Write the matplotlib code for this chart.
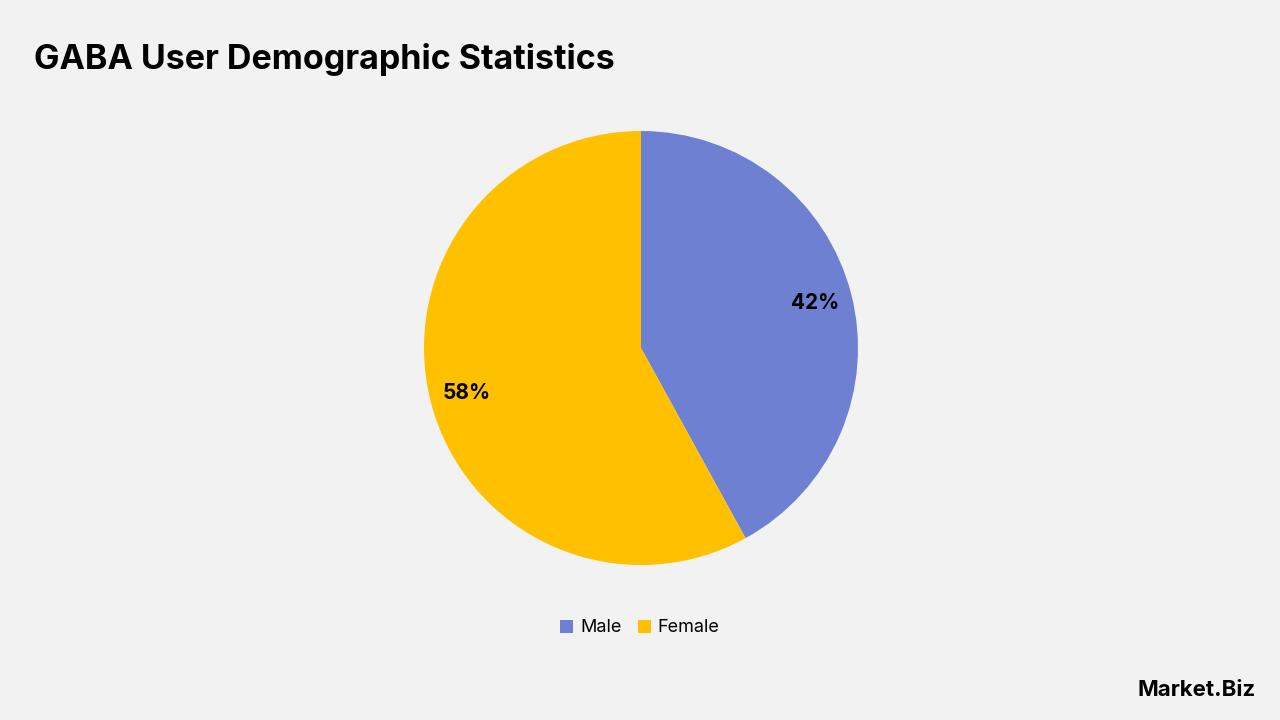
import matplotlib.pyplot as plt

labels = ['Male', 'Female']
shares = [42, 58]
colors = ['#6E80D2', '#FFC000']

plt.rcParams['font.family'] = ['Inter', 'DejaVu Sans']

fig = plt.figure(figsize=(12.8, 7.2), dpi=100, facecolor='#F2F2F2')
ax = fig.add_axes([641/1280 - 217/1280, 1 - 348/720 - 217/720, 434/1280, 434/720])
ax.set_facecolor('#F2F2F2')

wedges, texts, autotexts = ax.pie(shares, colors=colors, startangle=90, counterclock=False,
                                  autopct='%d%%', pctdistance=0.83,
                                  textprops={'fontsize': 15, 'fontweight': 'bold', 'color': 'black'})
ax.set_xlim(-1, 1)
ax.set_ylim(-1, 1)
ax.set_aspect('equal')

fig.text(34/1280, 1 - 59/720, 'GABA User Demographic Statistics', fontsize=24.5, fontweight='bold',
         va='center', ha='left')

fig.legend(wedges, labels, loc='center', bbox_to_anchor=(0.5, 1 - 628/720), ncol=2, frameon=False,
           fontsize=13, handlelength=0.7, handleheight=0.7, handletextpad=0.4, columnspacing=0.9)

fig.text(1256/1280, 1 - 690/720, 'Market.Biz', fontsize=16, fontweight='bold', ha='right', va='center')

plt.savefig('out.png', dpi=100, facecolor=fig.get_facecolor())
